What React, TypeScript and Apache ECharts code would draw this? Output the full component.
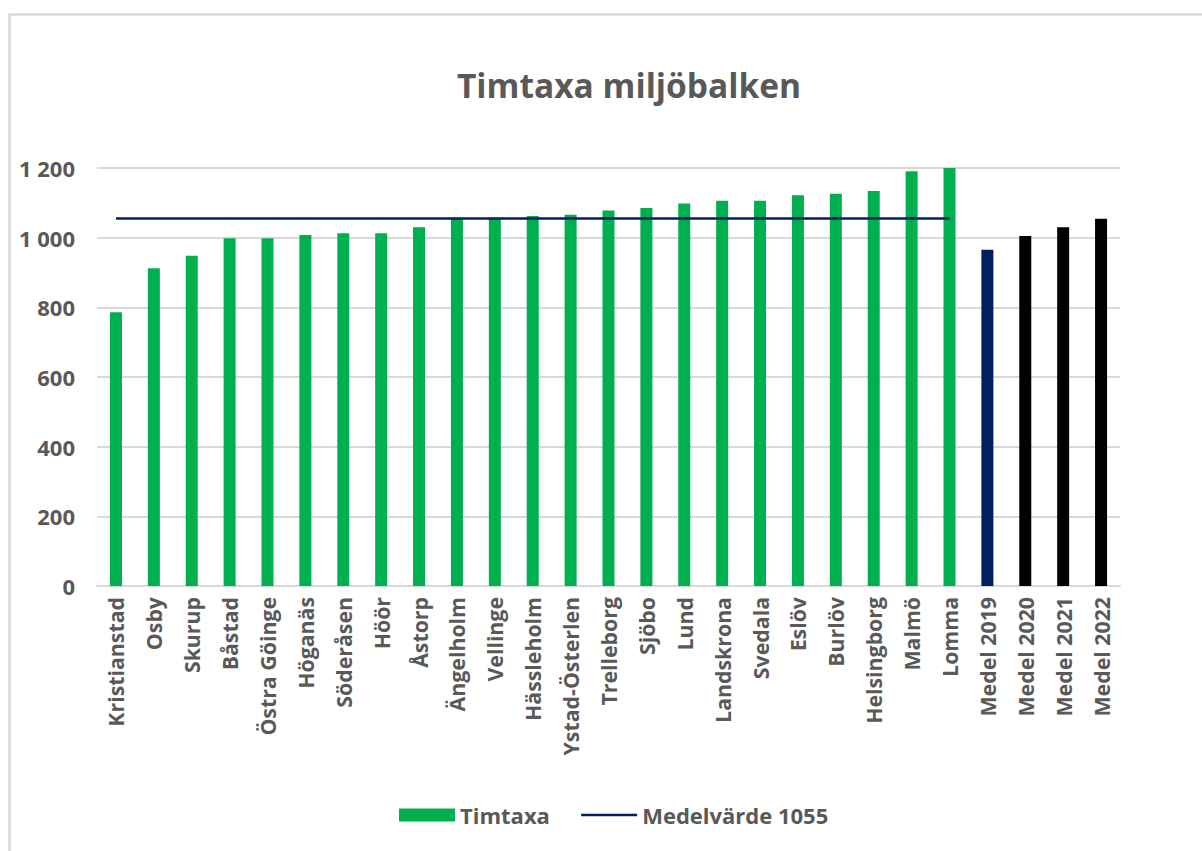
import React, { useEffect, useRef } from "react";
import * as echarts from "echarts";

const categories = [
  "Kristianstad", "Osby", "Skurup", "Båstad", "Östra Göinge", "Höganäs", "Söderåsen", "Höör",
  "Åstorp", "Ängelholm", "Vellinge", "Hässleholm", "Ystad-Österlen", "Trelleborg", "Sjöbo",
  "Lund", "Landskrona", "Svedala", "Eslöv", "Burlöv", "Helsingborg", "Malmö", "Lomma",
  "Medel 2019", "Medel 2020", "Medel 2021", "Medel 2022",
];
const timtaxa = [
  786, 912, 948, 998, 998, 1008, 1013, 1013, 1030, 1056, 1055, 1062, 1066, 1078, 1085,
  1098, 1106, 1106, 1122, 1126, 1134, 1191, 1200, 965, 1005, 1030, 1054,
];
const medelvarde = 1055;
const medelCount = 23; // line spans municipalities only
const barColors = { municipality: "#00B050", m2019: "#002060", mOther: "#000000" };
const yTicks = { min: 0, max: 1200, interval: 200 };

const FONT = "'Open Sans', 'Noto Sans', sans-serif";
const TXT = "#595959";

export default function App() {
  const ref = useRef<HTMLDivElement>(null);
  useEffect(() => {
    document.body.style.margin = "0";
    const chart = echarts.init(ref.current!, null, { renderer: "svg" });
    const barData = timtaxa.map((v, i) => {
      const name = categories[i];
      let color = barColors.municipality;
      if (name === "Medel 2019") color = barColors.m2019;
      else if (name.startsWith("Medel")) color = barColors.mOther;
      return { value: v, itemStyle: { color } };
    });
    const lineData = categories.map((_, i) => (i < medelCount ? medelvarde : null));
    chart.setOption({
      animation: false,
      textStyle: { fontFamily: FONT },
      title: {
        text: "Timtaxa miljöbalken",
        left: 624,
        top: 63,
        textAlign: "center",
        textStyle: { fontFamily: FONT, fontSize: 33.5, fontWeight: "bold", color: TXT },
      },
      graphic: [
        {
          type: "rect",
          shape: { x: 9.5, y: 14.5, width: 1400, height: 1000 },
          style: { fill: "none", stroke: "#d9d9d9", lineWidth: 2.5 },
          silent: true,
        },
      ],
      legend: {
        left: 394,
        top: 799,
        itemWidth: 56,
        itemHeight: 13,
        itemGap: 30,
        textStyle: { fontFamily: FONT, fontSize: 22, fontWeight: "bold", color: TXT },
        data: [
          { name: "Timtaxa", icon: "rect", itemStyle: { color: barColors.municipality } },
          {
            name: "Medelvärde 1055",
            itemStyle: { color: "transparent", borderWidth: 0, opacity: 0 },
            lineStyle: { color: "#002060", width: 2.5 },
          },
        ],
      },
      grid: { left: 97, right: 82, top: 168, bottom: 265, containLabel: false },
      xAxis: {
        type: "category",
        data: categories,
        axisTick: { show: false },
        axisLine: { lineStyle: { color: "#d9d9d9", width: 2 } },
        axisLabel: {
          rotate: 90,
          interval: 0,
          margin: 11,
          fontFamily: FONT,
          fontSize: 21.3,
          fontWeight: "bold",
          color: TXT,
        },
      },
      yAxis: {
        type: "value",
        min: yTicks.min,
        max: yTicks.max,
        interval: yTicks.interval,
        axisLine: { show: false },
        axisTick: { show: false },
        splitLine: { lineStyle: { color: "#d9d9d9", width: 2 } },
        axisLabel: {
          margin: 22,
          fontFamily: FONT,
          fontSize: 22,
          fontWeight: "bold",
          color: TXT,
          formatter: (v: number) => String(v).replace(/\B(?=(\d{3})+(?!\d))/g, " "),
        },
      },
      series: [
        {
          name: "Timtaxa",
          type: "bar",
          barWidth: 12,
          data: barData,
          itemStyle: { color: barColors.municipality },
        },
        {
          name: "Medelvärde 1055",
          type: "line",
          data: lineData,
          symbol: "none",
          connectNulls: false,
          lineStyle: { color: "#002060", width: 2.5 },
          itemStyle: { color: "#002060" },
          z: 5,
        },
      ],
    });
    return () => chart.dispose();
  }, []);
  return <div ref={ref} style={{ width: 1202, height: 851 }} />;
}
